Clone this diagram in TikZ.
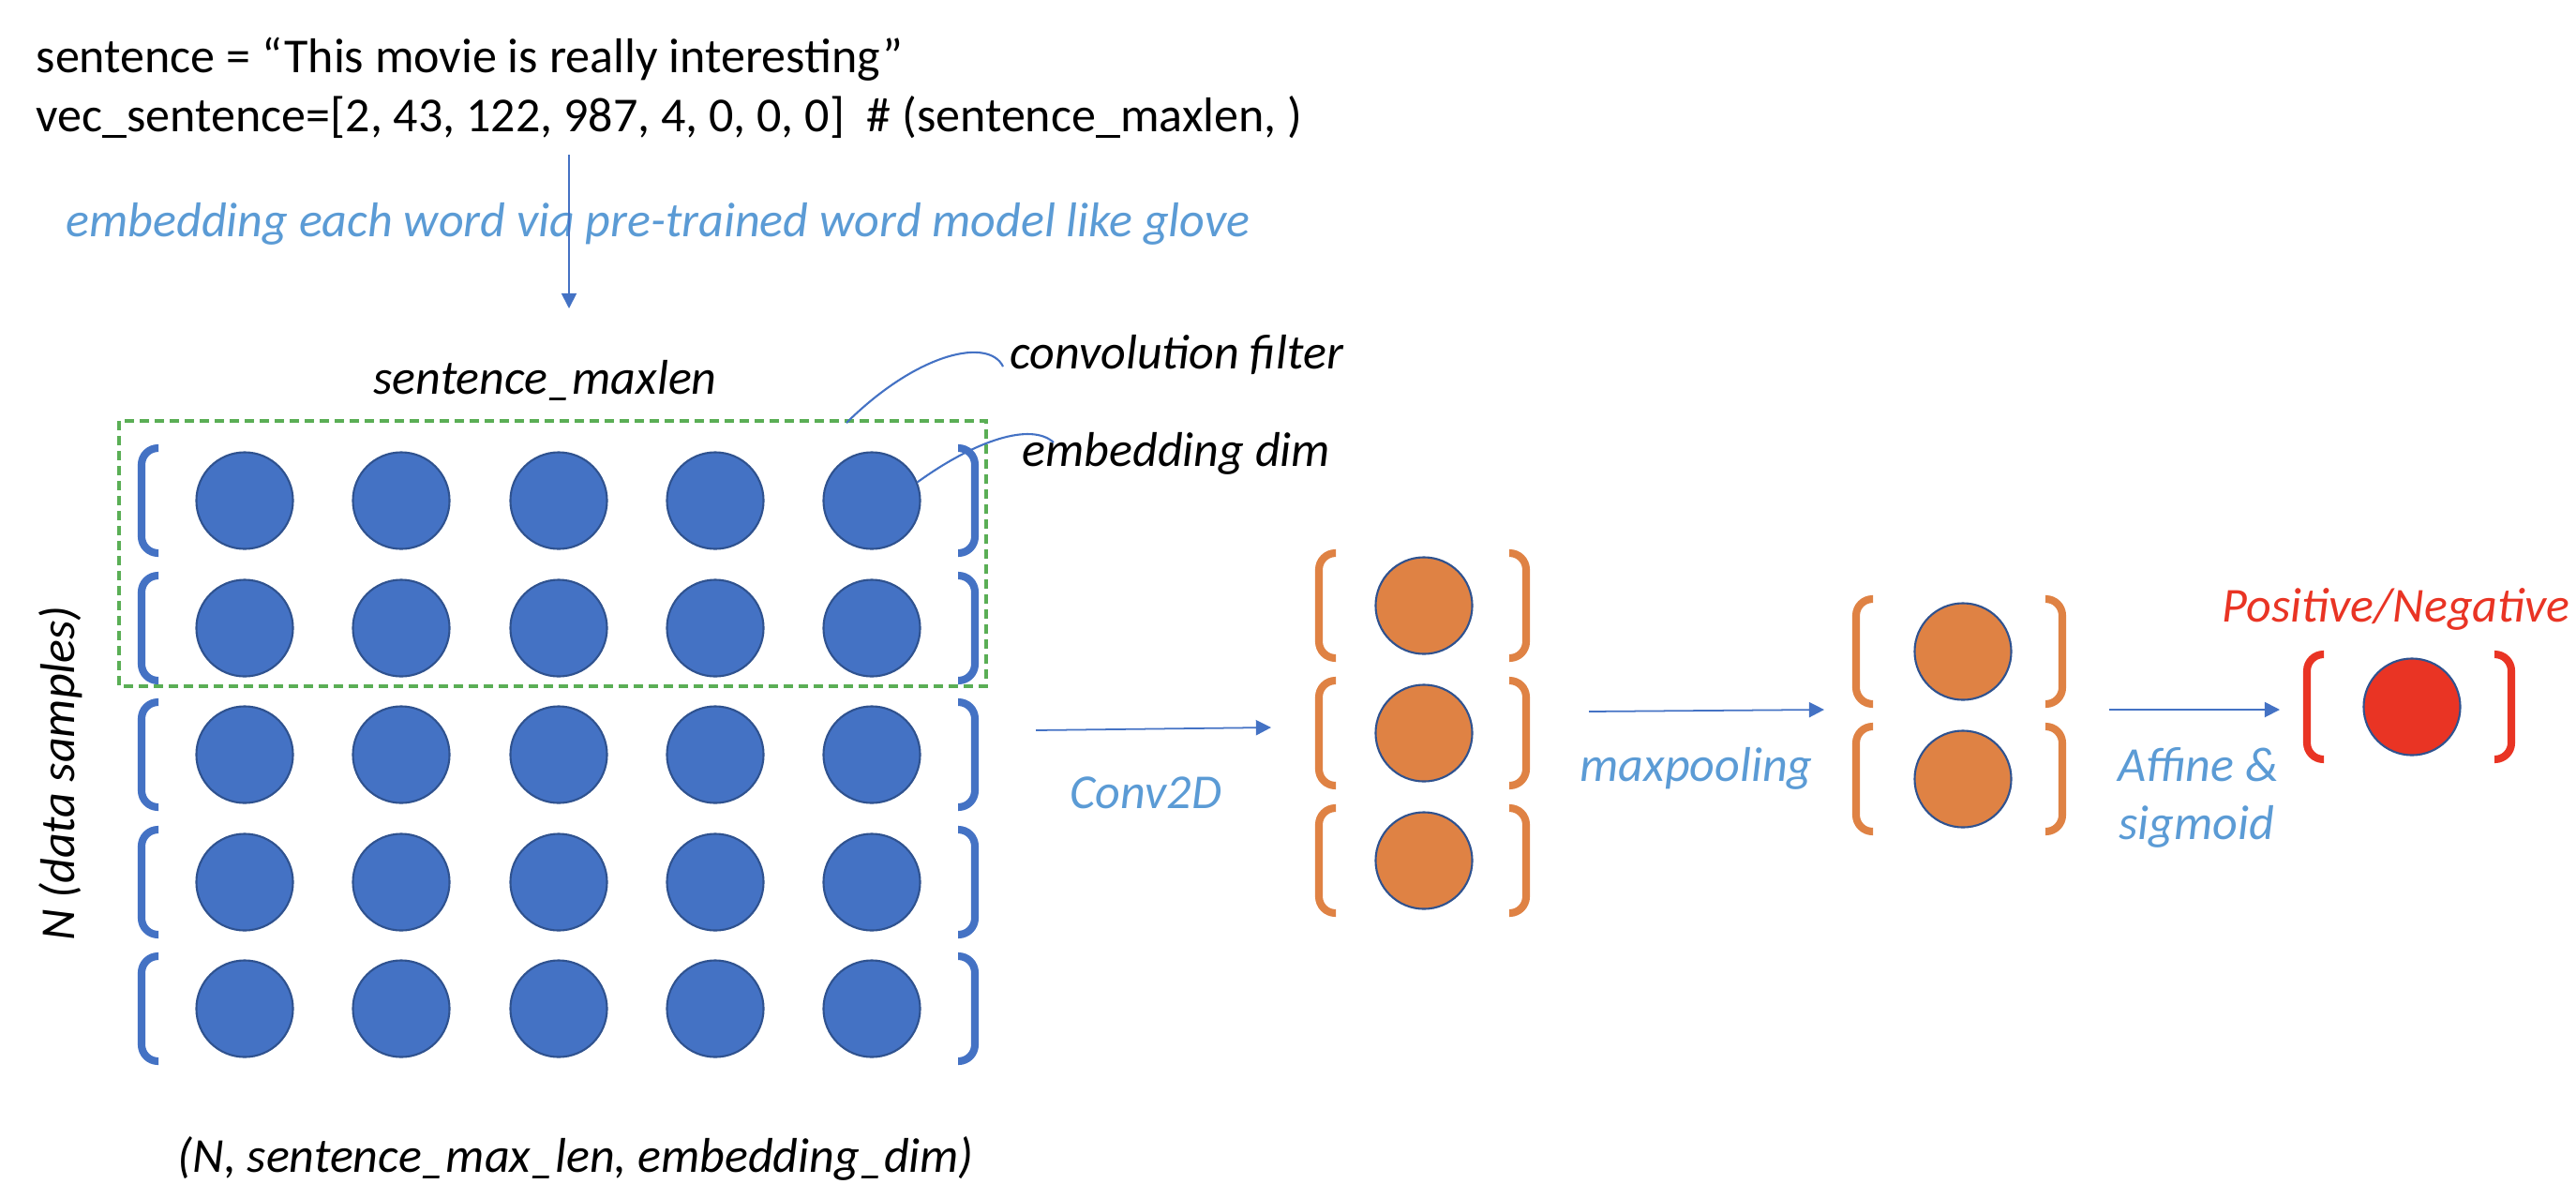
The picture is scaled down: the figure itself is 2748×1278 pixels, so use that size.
\documentclass[tikz,border=0pt]{standalone}
\usepackage{fontspec}
\setmainfont{Carlito}
\usepackage{xcolor}
\usepackage{tikz}
\usetikzlibrary{arrows.meta}

\definecolor{biru}{HTML}{4472C4}
\definecolor{birutua}{HTML}{2F528F}
\definecolor{birumuda}{HTML}{5B9BD5}
\definecolor{oranye}{HTML}{DF8244}
\definecolor{merah}{HTML}{E93424}
\definecolor{hijau}{HTML}{5AAE55}

% kurung kiri dan kanan: x kiri, x kanan, y tengah, warna
\newcommand{\kurung}[4]{%
  \draw[kurung,#4] (#1+18,#3-56) -- (#1,#3-56) -- (#1,#3+56) -- (#1+18,#3+56);
  \draw[kurung,#4] (#2-18,#3-56) -- (#2,#3-56) -- (#2,#3+56) -- (#2-18,#3+56);}

\begin{document}
\begin{tikzpicture}[x=0.01cm,y=-0.01cm,
    bulat/.style={circle,minimum size=1.03cm,inner sep=0pt,draw=birutua,line width=0.6pt},
    kurung/.style={line width=2.3pt,rounded corners=5pt},
    panah/.style={biru,line width=0.5pt,-{Triangle[length=4.6pt,width=4.6pt]}},
    teks/.style={anchor=base west,inner sep=0pt,font=\fontsize{14.8}{17.9}\selectfont},
    miring/.style={teks,font=\fontsize{14.8}{17.9}\selectfont\itshape}]
        \useasboundingbox (0,0) rectangle (2748,1278);
        %TEKS ATAS
        \node[teks] (kal) at (38,77) {sentence = “This movie is really interesting”};
        \node[teks] (vek) at (38,140) {vec\_sentence=[2, 43, 122, 987, 4, 0, 0, 0]\ \ \# (sentence\_maxlen, )};
        \node[miring,birumuda] (emb) at (70,252) {embedding each word via pre-trained word model like glove};
        \coordinate (A) at (607,165);
        \coordinate (B) at (607,329);
        \draw[panah] (A) -- (B);

        %MATRIKS
        \node[miring] (len) at (398,420) {sentence\_maxlen};
        \foreach \y [count=\r] in {534,670,805,941,1076} {
            \foreach \x [count=\c] in {261,428,596,763,930}
                \node[bulat,fill=biru] (b\r\c) at (\x,\y) {};
            \kurung{151}{1040}{\y}{biru}
        }
        \draw[hijau,line width=1pt,dash pattern=on 2.85pt off 1.7pt] (127,449) rectangle (1052,732);
        \node[miring,rotate=90,anchor=base] (N) at (80,825) {N (data samples)};
        \node[miring] (dim) at (189,1250) {(N, sentence\_max\_len, embedding\_dim)};

        %KETERANGAN
        \node[miring] (filt) at (1077,393) {convolution filter};
        \node[miring] (edim) at (1090,497) {embedding dim};
        \coordinate (F) at (903,451);
        \coordinate (F1) at (1070,391);
        \coordinate (E1) at (1124,472);
        \draw[biru,line width=0.6pt] (F) .. controls (980,375) and (1055,360) .. (F1);
        \draw[biru,line width=0.6pt] (b15.22) .. controls (1040,470) and (1100,450) .. (E1);

        %KONVOLUSI
        \foreach \y [count=\r] in {646,782,918} {
            \node[bulat,fill=oranye] (o\r) at (1519,\y) {};
            \kurung{1407}{1628}{\y}{oranye}
        }
        \coordinate (C0) at (1105,779);
        \coordinate (C1) at (1356,776);
        \draw[panah] (C0) -- (C1);
        \node[miring,birumuda] (conv) at (1141,862) {Conv2D};

        %POOLING
        \foreach \y [count=\r] in {695,831} {
            \node[bulat,fill=oranye] (p\r) at (2094,\y) {};
            \kurung{1980}{2200}{\y}{oranye}
        }
        \coordinate (M0) at (1695,759);
        \coordinate (M1) at (1946,757);
        \draw[panah] (M0) -- (M1);
        \node[miring,birumuda] (pool) at (1685,833) {maxpooling};

        %KELUARAN
        \node[bulat,fill=merah] (out) at (2573,754) {};
        \kurung{2461}{2679}{754}{merah}
        \coordinate (S0) at (2250,757);
        \coordinate (S1) at (2432,757);
        \draw[panah] (S0) -- (S1);
        \node[miring,birumuda] (aff) at (2259,833) {Affine \&};
        \node[miring,birumuda] (sig) at (2260,895) {sigmoid};
        \node[miring,merah] (hasil) at (2370,663) {Positive/Negative};
    \end{tikzpicture}
\end{document}
